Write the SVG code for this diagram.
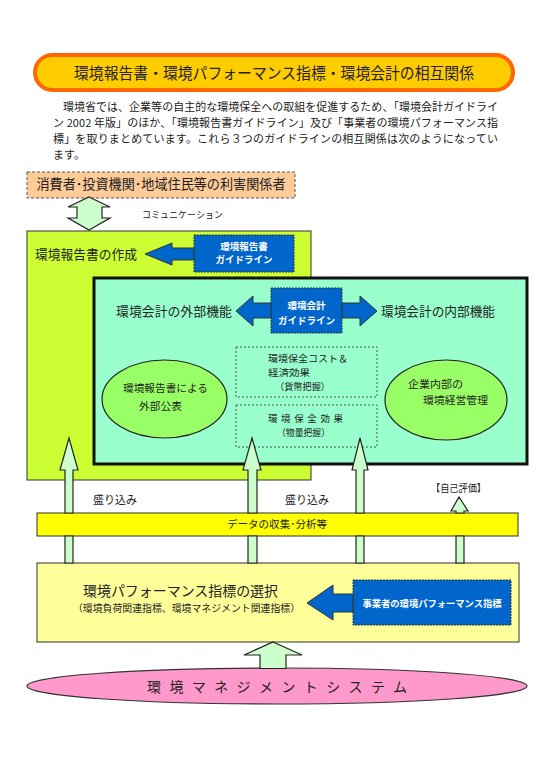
<svg xmlns="http://www.w3.org/2000/svg" width="550" height="778" viewBox="0 0 550 778">
<style>
text{font-family:"Noto Sans CJK JP","Noto Sans CJK SC",sans-serif;fill:#222}
.c{text-anchor:middle}
.w{fill:#fff;font-weight:bold}
.blue{fill:#0066CC;stroke:#333;stroke-width:1;stroke-dasharray:2 1}
.bluearrow{fill:#0066CC;stroke:#333;stroke-width:1}
.garrow{fill:#CCFFCC;stroke:#222;stroke-width:1.2}
.dbox{fill:none;stroke:#555;stroke-width:1;stroke-dasharray:2 2}
.ell{fill:#99FF66;stroke:#222;stroke-width:1.2}
.p{font-size:11px}
.s{font-size:10.5px}
.t{font-size:9.5px}
</style>
<rect width="550" height="778" fill="#fff"/>

<g id="title">
<rect x="35" y="55" width="478" height="35" rx="17.5" fill="#FFCC00" stroke="#FF6600" stroke-width="4"/>
<text x="274" y="79" class="c" font-size="15.5" textLength="400" lengthAdjust="spacingAndGlyphs">環境報告書・環境パフォーマンス指標・環境会計の相互関係</text>
</g>

<g id="intro">
<text class="p" x="52" y="111" textLength="446" lengthAdjust="spacing">　環境省では、企業等の自主的な環境保全への取組を促進するため、「環境会計ガイドライ</text>
<text class="p" x="53" y="127" textLength="445" lengthAdjust="spacing">ン 2002 年版」のほか、「環境報告書ガイドライン」及び「事業者の環境パフォーマンス指</text>
<text class="p" x="53" y="143" textLength="445" lengthAdjust="spacing">標」を取りまとめています。これら３つのガイドラインの相互関係は次のようになってい</text>
<text class="p" x="53" y="159">ます。</text>
</g>

<g id="stakeholders">
<rect x="27" y="172" width="268" height="26" fill="#FFCC99" stroke="#555" stroke-dasharray="3 2"/>
<text x="161" y="189" class="c" font-size="14" textLength="249" lengthAdjust="spacingAndGlyphs">消費者･投資機関･地域住民等の利害関係者</text>
</g>

<g id="communication-label">
<text x="142" y="217.5" font-size="9.5" textLength="81" lengthAdjust="spacingAndGlyphs">コミュニケーション</text>
</g>

<g id="report-creation">
<rect x="27" y="231" width="284" height="249" fill="#CCFF33" stroke="#333" stroke-width="1"/>
<text x="35" y="259" font-size="13" textLength="102" lengthAdjust="spacingAndGlyphs">環境報告書の作成</text>
</g>

<g id="report-guideline">
<rect x="194" y="235" width="100" height="37" class="blue"/>
<text x="244" y="249.5" class="c w" font-size="9.5">環境報告書</text>
<text x="244" y="263" class="c w" font-size="9.5">ガイドライン</text>
</g>

<g id="accounting">
<rect x="94" y="278" width="433" height="186" fill="#99FFCC" stroke="#111" stroke-width="3"/>
<text x="116" y="316" font-size="13" textLength="116" lengthAdjust="spacingAndGlyphs">環境会計の外部機能</text>
<text x="381" y="316" font-size="13" textLength="114" lengthAdjust="spacingAndGlyphs">環境会計の内部機能</text>
</g>

<g id="accounting-guideline">
<rect x="271" y="288" width="71" height="45" class="blue"/>
<text x="306.5" y="308.5" class="c w" font-size="9.5">環境会計</text>
<text x="306.5" y="323.5" class="c w" font-size="9.5">ガイドライン</text>
</g>

<g id="external-disclosure">
<ellipse cx="164.5" cy="399" rx="62.5" ry="39" class="ell"/>
<text x="165.5" y="392" class="c s" textLength="85" lengthAdjust="spacingAndGlyphs">環境報告書による</text>
<text x="160.5" y="410" class="c s" textLength="43" lengthAdjust="spacingAndGlyphs">外部公表</text>
</g>

<g id="cost-benefit">
<rect x="236" y="347" width="141" height="50" class="dbox"/>
<text x="268" y="361.5" class="t" textLength="80" lengthAdjust="spacingAndGlyphs">環境保全コスト＆</text>
<text x="268" y="375.5" class="t" textLength="42" lengthAdjust="spacingAndGlyphs">経済効果</text>
<text x="275" y="389.5" class="t" textLength="55" lengthAdjust="spacingAndGlyphs">（貨幣把握）</text>
</g>

<g id="conservation-effect">
<rect x="236" y="405" width="141" height="42" class="dbox"/>
<text x="268" y="421.5" class="t" textLength="75" lengthAdjust="spacing">環境保全効果</text>
<text x="277" y="435.5" class="t" textLength="53" lengthAdjust="spacingAndGlyphs">（物量把握）</text>
</g>

<g id="internal-management">
<ellipse cx="446" cy="400" rx="61" ry="40" class="ell"/>
<text x="408" y="388" class="s" textLength="55" lengthAdjust="spacingAndGlyphs">企業内部の</text>
<text x="423" y="404" class="s" textLength="65" lengthAdjust="spacingAndGlyphs">環境経営管理</text>
</g>

<g id="labels">
<text x="93" y="504" font-size="11" textLength="44" lengthAdjust="spacingAndGlyphs">盛り込み</text>
<text x="285" y="504" font-size="11" textLength="44" lengthAdjust="spacingAndGlyphs">盛り込み</text>
<text x="431" y="492" font-size="10" textLength="55" lengthAdjust="spacingAndGlyphs">【自己評価】</text>
</g>

<g id="data-collection">
<rect x="37" y="513" width="481" height="23" fill="#FFFF00" stroke="#333" stroke-width="1"/>
<text x="277" y="527.5" class="c" font-size="10.5" textLength="100" lengthAdjust="spacingAndGlyphs">データの収集･分析等</text>
</g>

<g id="indicator-selection">
<rect x="37" y="563" width="482" height="79" fill="#FFFF99" stroke="#333" stroke-width="1"/>
<text x="83" y="595.5" font-size="14" textLength="195" lengthAdjust="spacingAndGlyphs">環境パフォーマンス指標の選択</text>
<text x="73" y="612" font-size="10" textLength="227" lengthAdjust="spacingAndGlyphs">（環境負荷関連指標、環境マネジメント関連指標）</text>
</g>

<g id="performance-guideline">
<rect x="353" y="580" width="158" height="45" class="blue"/>
<text x="432" y="606.5" class="c w" font-size="9.3" textLength="139" lengthAdjust="spacingAndGlyphs">事業者の環境パフォーマンス指標</text>
</g>

<g id="ems">
<ellipse cx="277" cy="686" rx="250" ry="18" fill="#FF99CC" stroke="#333" stroke-width="1.2"/>
<text x="147" y="691.5" font-size="14" textLength="260" lengthAdjust="spacing">環境マネジメントシステム</text>
</g>

<g id="connectors">
<polygon class="garrow" points="89,197 110,207 102,207 102,218 110,218 89,230 68,218 77,218 77,207 68,207"/>
<polygon class="bluearrow" points="145,254 172,243 172,248 194,248 194,260 172,260 172,265"/>
<polygon class="bluearrow" points="236,311 253,296 253,303 271,303 271,318 253,318 253,326"/>
<polygon class="bluearrow" points="377,311 360,296 360,303 342,303 342,318 360,318 360,326"/>
<polygon class="bluearrow" points="307,603 333,585 333,594 353,594 353,612 333,612 333,620"/>
<path class="garrow" d="M69,438 L78,470 L73,470 L73,513 L65,513 L65,470 L60,470 Z M65,536 L73,536 L73,563 L65,563 Z"/>
<path class="garrow" d="M252,438 L261,470 L257,470 L257,513 L248,513 L248,470 L243,470 Z M248,536 L257,536 L257,563 L248,563 Z"/>
<path class="garrow" d="M360,438 L368,470 L364,470 L364,513 L356,513 L356,470 L352,470 Z M356,536 L364,536 L364,563 L356,563 Z"/>
<path class="garrow" d="M459,497 L468,511 L464,511 L464,513 L456,513 L456,511 L451,511 Z M456,536 L464,536 L464,563 L456,563 Z"/>
<polygon class="garrow" points="273,642 302,655 286,655 286,668.5 260,668.5 260,655 244,655"/>
</g>
</svg>
